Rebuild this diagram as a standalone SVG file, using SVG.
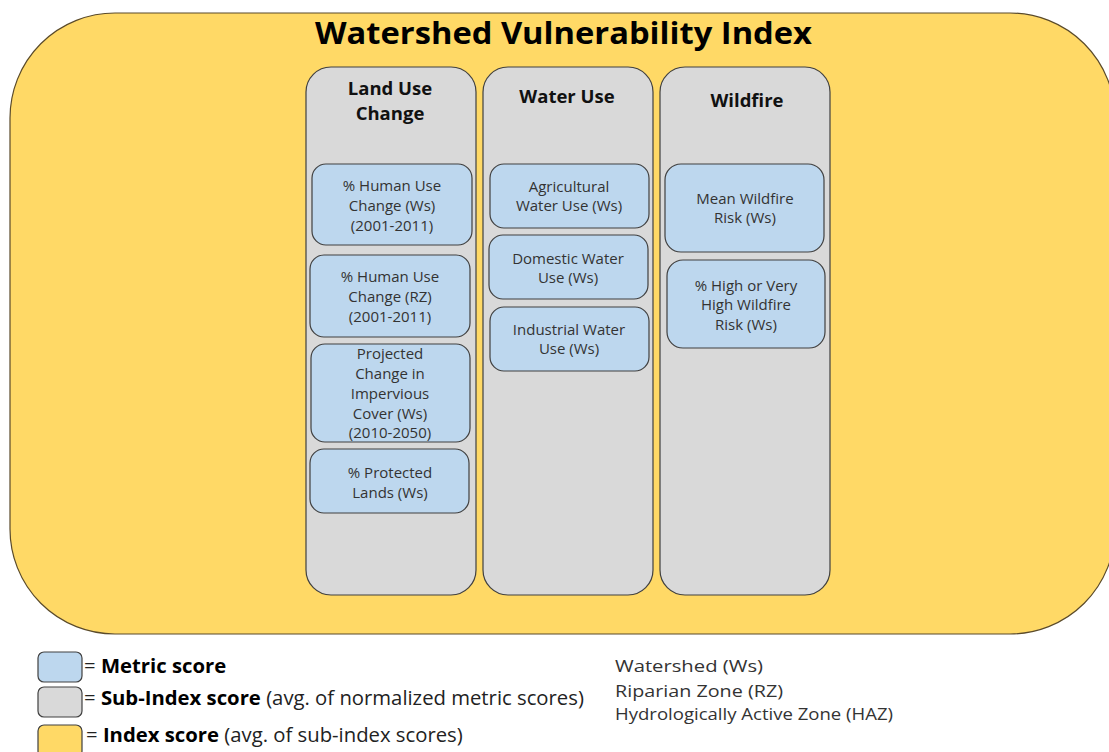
<svg xmlns="http://www.w3.org/2000/svg" width="1109" height="752" viewBox="0 0 1109 752">
<style>
text{font-family:"Open Sans","Liberation Sans",sans-serif;}
.idx{fill:#FFD966;stroke:#5a4a2a;stroke-width:1.2;}
.sub{fill:#D9D9D9;stroke:#404040;stroke-width:1.2;}
.met{fill:#BDD7EE;stroke:#404040;stroke-width:1.2;}
.title{font-size:30px;font-weight:700;fill:#000;}
.hdr{font-size:18.5px;font-weight:700;fill:#111;text-anchor:middle;}
.mt{font-size:15px;fill:#333;text-anchor:middle;}
.lg{font-size:20.3px;fill:#222;}
.lgb{font-weight:700;fill:#000;}
.side{font-size:17px;fill:#333;}
</style>
<rect width="1109" height="752" fill="#fff"/>
<g id="index">
<rect class="idx" x="10" y="13" width="1105" height="621" rx="105" ry="105"/>
<text class="title" x="315" y="44" textLength="497" lengthAdjust="spacingAndGlyphs">Watershed Vulnerability Index</text>
</g>
<g id="land-use-change">
<rect class="sub" x="306" y="67" width="170" height="528" rx="25" ry="25"/>
<text class="hdr" x="390" y="95">Land Use</text>
<text class="hdr" x="390" y="120">Change</text>
</g>
<g id="water-use">
<rect class="sub" x="483" y="67" width="170" height="528" rx="25" ry="25"/>
<text class="hdr" x="567" y="103">Water Use</text>
</g>
<g id="wildfire">
<rect class="sub" x="660" y="67" width="170" height="528" rx="25" ry="25"/>
<text class="hdr" x="747" y="107">Wildfire</text>
</g>
<g id="m-human-ws">
<rect class="met" x="312" y="164" width="160" height="81" rx="14" ry="14"/>
<text class="mt" x="392" y="191">% Human Use</text>
<text class="mt" x="392" y="211">Change (Ws)</text>
<text class="mt" x="392" y="231">(2001-2011)</text>
</g>
<g id="m-human-rz">
<rect class="met" x="310" y="255" width="160" height="82" rx="14" ry="14"/>
<text class="mt" x="390" y="282">% Human Use</text>
<text class="mt" x="390" y="302">Change (RZ)</text>
<text class="mt" x="390" y="322">(2001-2011)</text>
</g>
<g id="m-impervious">
<rect class="met" x="311" y="344" width="159" height="98" rx="14" ry="14"/>
<text class="mt" x="390" y="359">Projected</text>
<text class="mt" x="390" y="379">Change in</text>
<text class="mt" x="390" y="399">Impervious</text>
<text class="mt" x="390" y="419">Cover (Ws)</text>
<text class="mt" x="390" y="438">(2010-2050)</text>
</g>
<g id="m-protected">
<rect class="met" x="310" y="449" width="159" height="64" rx="14" ry="14"/>
<text class="mt" x="390" y="478">% Protected</text>
<text class="mt" x="390" y="498">Lands (Ws)</text>
</g>
<g id="m-agri">
<rect class="met" x="490" y="164" width="159" height="64" rx="14" ry="14"/>
<text class="mt" x="569" y="192">Agricultural</text>
<text class="mt" x="569" y="211">Water Use (Ws)</text>
</g>
<g id="m-domestic">
<rect class="met" x="489" y="235" width="159" height="64" rx="14" ry="14"/>
<text class="mt" x="568" y="264">Domestic Water</text>
<text class="mt" x="568" y="283">Use (Ws)</text>
</g>
<g id="m-industrial">
<rect class="met" x="490" y="307" width="159" height="64" rx="14" ry="14"/>
<text class="mt" x="569" y="335">Industrial Water</text>
<text class="mt" x="569" y="354">Use (Ws)</text>
</g>
<g id="m-mean-wildfire">
<rect class="met" x="665" y="164" width="159" height="88" rx="16" ry="16"/>
<text class="mt" x="745" y="204">Mean Wildfire</text>
<text class="mt" x="745" y="223">Risk (Ws)</text>
</g>
<g id="m-high-wildfire">
<rect class="met" x="667" y="260" width="158" height="88" rx="16" ry="16"/>
<text class="mt" x="746" y="291">% High or Very</text>
<text class="mt" x="746" y="310">High Wildfire</text>
<text class="mt" x="746" y="330">Risk (Ws)</text>
</g>
<g id="connectors"></g>
<g id="legend">
<rect class="met" x="38" y="652" width="44" height="30" rx="6" ry="6"/>
<rect class="sub" x="38" y="687" width="44" height="30" rx="6" ry="6"/>
<rect class="idx" x="38" y="725" width="44" height="32" rx="6" ry="6" style="stroke:#404040"/>
<text class="lg" x="84" y="673">= <tspan class="lgb">Metric score</tspan></text>
<text class="lg" x="84" y="705">= <tspan class="lgb">Sub-Index score</tspan> (avg. of normalized metric scores)</text>
<text class="lg" x="86" y="742">= <tspan class="lgb">Index score</tspan> (avg. of sub-index scores)</text>
</g>
<g id="abbreviations">
<text class="side" x="615" y="672" textLength="148" lengthAdjust="spacingAndGlyphs">Watershed (Ws)</text>
<text class="side" x="615" y="697" textLength="168" lengthAdjust="spacingAndGlyphs">Riparian Zone (RZ)</text>
<text class="side" x="615" y="720" textLength="278" lengthAdjust="spacingAndGlyphs">Hydrologically Active Zone (HAZ)</text>
</g>
</svg>
